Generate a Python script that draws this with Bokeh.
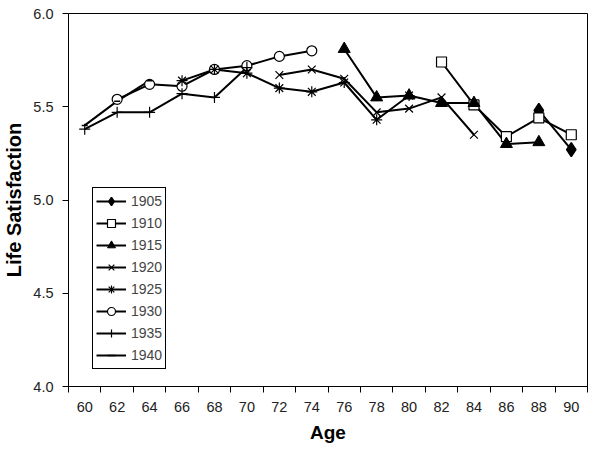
from bokeh.plotting import figure
from bokeh.models import FixedTicker, Legend, LegendItem, Range1d, PrintfTickFormatter
from bokeh.embed import file_html
from bokeh.resources import INLINE

# ---- data ----
cohorts = ["1905", "1910", "1915", "1920", "1925", "1930", "1935", "1940"]
ages_1905 = [88, 90]
ls_1905 = [5.48, 5.27]
ages_1910 = [82, 84, 86, 88, 90]
ls_1910 = [5.74, 5.51, 5.34, 5.44, 5.35]
ages_1915 = [76, 78, 80, 82, 84, 86, 88]
ls_1915 = [5.81, 5.55, 5.56, 5.52, 5.52, 5.30, 5.31]
ages_1920 = [72, 74, 76, 78, 80, 82, 84]
ls_1920 = [5.67, 5.70, 5.65, 5.47, 5.49, 5.55, 5.35]
ages_1925 = [66, 68, 70, 72, 74, 76, 78, 80]
ls_1925 = [5.64, 5.70, 5.68, 5.60, 5.58, 5.63, 5.43, 5.56]
ages_1930 = [62, 64, 66, 68, 70, 72, 74]
ls_1930 = [5.54, 5.62, 5.61, 5.70, 5.72, 5.77, 5.80]
ages_1935 = [60, 62, 64, 66, 68, 70]
ls_1935 = [5.38, 5.47, 5.47, 5.57, 5.55, 5.71]
ages_1940 = [60, 62, 64]
ls_1940 = [5.40, 5.53, 5.64]

age_labels = list(range(60, 91, 2))
y_ticks = [4.0, 4.5, 5.0, 5.5, 6.0]

series = {
    "1905": (ages_1905, ls_1905),
    "1910": (ages_1910, ls_1910),
    "1915": (ages_1915, ls_1915),
    "1920": (ages_1920, ls_1920),
    "1925": (ages_1925, ls_1925),
    "1930": (ages_1930, ls_1930),
    "1935": (ages_1935, ls_1935),
    "1940": (ages_1940, ls_1940),
}

styles = {
    "1905": dict(marker="diamond", size=14, fill_color="black", line_color="black", line_width=1.5),
    "1910": dict(marker="square", size=10, fill_color="white", line_color="black", line_width=1.2),
    "1915": dict(marker="triangle", size=12, fill_color="black", line_color="black", line_width=1),
    "1920": dict(marker="x", size=11, line_color="black", line_width=1.2),
    "1925": dict(marker="asterisk", size=11, line_color="black", line_width=1.2),
    "1930": dict(marker="circle", size=10, fill_color="white", line_color="black", line_width=1.2),
    "1935": dict(marker="cross", size=11, line_color="black", line_width=1.2),
    "1940": dict(marker="dash", size=6, line_color="black", line_width=1.5),
}

FONT = "Liberation Sans"

p = figure(width=595, height=446, x_range=Range1d(59, 91), y_range=Range1d(4, 6),
           output_backend="svg", toolbar_location=None,
           min_border_left=58, min_border_right=8, min_border_top=13, min_border_bottom=60)
p.xgrid.visible = False
p.ygrid.visible = False
p.outline_line_color = "black"
p.outline_line_width = 1
p.outline_line_alpha = 1
p.background_fill_color = "white"
p.border_fill_color = "white"

p.xaxis.ticker = FixedTicker(ticks=age_labels, minor_ticks=list(range(59, 92, 2)))
p.xaxis.major_tick_line_color = None
p.xaxis.minor_tick_in = 0
p.xaxis.minor_tick_out = 6
p.xaxis.minor_tick_line_color = "black"
p.yaxis.ticker = FixedTicker(ticks=y_ticks, minor_ticks=[])
p.yaxis.major_tick_in = 0
p.yaxis.major_tick_out = 6
p.yaxis.formatter = PrintfTickFormatter(format="%.1f")
for ax in (p.xaxis, p.yaxis):
    ax.axis_line_color = "black"
    ax.major_label_text_font = FONT
    ax.major_label_text_font_size = "14.5px"
    ax.major_label_text_color = "#222222"
    ax.axis_label_text_font = FONT
    ax.axis_label_text_font_style = "bold"
    ax.axis_label_text_color = "black"
p.xaxis.axis_label_text_font_size = "19px"
p.yaxis.axis_label_text_font_size = "20px"
p.xaxis.axis_label = "Age"
p.yaxis.axis_label = "Life Satisfaction"
p.xaxis.major_label_standoff = 9
p.yaxis.major_label_standoff = 9
p.xaxis.axis_label_standoff = 7
p.yaxis.axis_label_standoff = 5

line_r = {}
for c in cohorts:
    xs, ys = series[c]
    line_r[c] = p.line(xs, ys, line_color="black", line_width=2)

marker_r = {}
for c in ["1905", "1910", "1915", "1930", "1920", "1925", "1935", "1940"]:
    xs, ys = series[c]
    marker_r[c] = p.scatter(xs, ys, **styles[c])

items = [LegendItem(label=c, renderers=[line_r[c], marker_r[c]]) for c in cohorts]
legend = Legend(items=items, location=(24, 17), glyph_width=30, glyph_height=20,
                label_height=20, spacing=2, padding=3, margin=0, label_standoff=5,
                label_text_font=FONT, label_text_font_size="14px",
                border_line_color="black", border_line_width=1, border_line_alpha=1,
                background_fill_color="white", background_fill_alpha=1)
p.add_layout(legend)

open("out.html", "w").write(file_html(p, INLINE))
